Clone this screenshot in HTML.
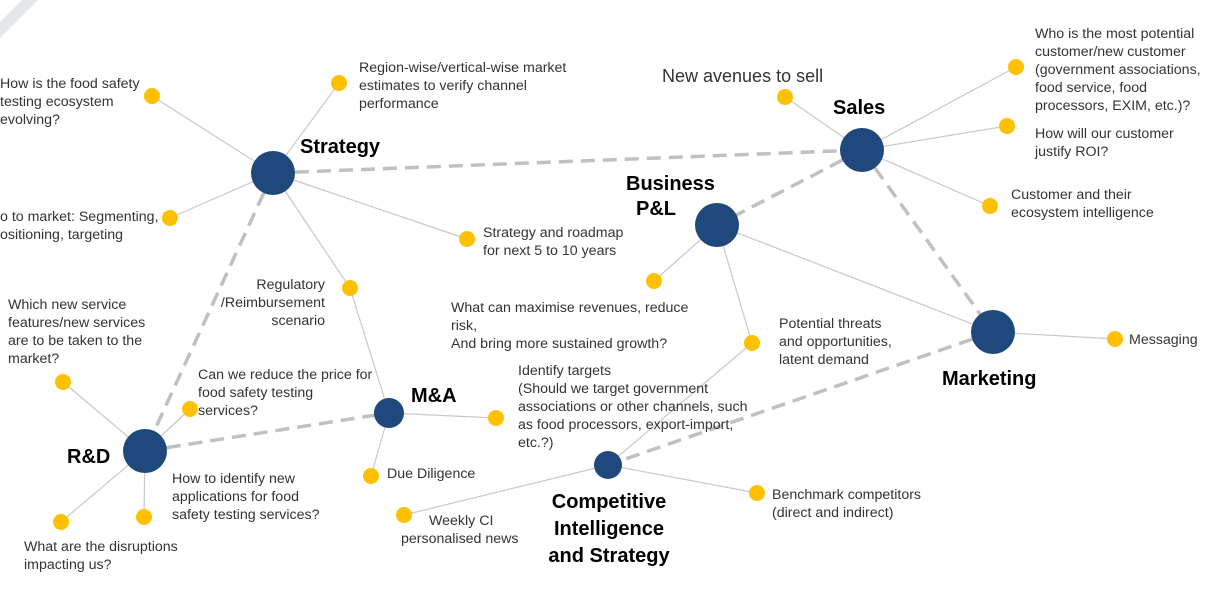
<!DOCTYPE html>
<html><head><meta charset="utf-8"><style>
html,body{margin:0;padding:0;background:#fff;}
svg{display:block;font-family:"Liberation Sans",sans-serif;}
.t{font-size:14.2px;fill:#333;}
.h{font-size:20px;fill:#000;font-weight:bold;}
</style></head><body>
<svg width="1205" height="592" viewBox="0 0 1205 592">
<polygon points="0,22 22,0 38,0 0,38" fill="#e3e6ea"/>
<g stroke="#c8c8c8" stroke-width="1.2">
<line x1="273" y1="173" x2="152" y2="96"/><line x1="273" y1="173" x2="339" y2="83"/>
<line x1="273" y1="173" x2="170" y2="218"/><line x1="273" y1="173" x2="467" y2="239"/>
<line x1="273" y1="173" x2="350" y2="288"/><line x1="350" y1="288" x2="389" y2="413"/>
<line x1="862" y1="150" x2="785" y2="97"/><line x1="862" y1="150" x2="1016" y2="67"/>
<line x1="862" y1="150" x2="1007" y2="126"/><line x1="862" y1="150" x2="990" y2="206"/>
<line x1="717" y1="225" x2="654" y2="281"/><line x1="717" y1="225" x2="752" y2="343"/>
<line x1="717" y1="225" x2="993" y2="332"/><line x1="993" y1="332" x2="1115" y2="339"/>
<line x1="145" y1="451" x2="63" y2="382"/><line x1="145" y1="451" x2="190" y2="409"/>
<line x1="145" y1="451" x2="144" y2="517"/><line x1="145" y1="451" x2="61" y2="522"/>
<line x1="389" y1="413" x2="496" y2="418"/><line x1="389" y1="413" x2="371" y2="476"/>
<line x1="608" y1="465" x2="404" y2="515"/><line x1="608" y1="465" x2="757" y2="493"/>
<line x1="608" y1="465" x2="752" y2="343"/>
</g>
<g stroke="#c0c0c0" stroke-width="3.5" stroke-dasharray="14,8" fill="none">
<line x1="273" y1="173" x2="862" y2="150"/><line x1="273" y1="173" x2="145" y2="451"/>
<line x1="145" y1="451" x2="389" y2="413"/><line x1="862" y1="150" x2="717" y2="225"/>
<line x1="862" y1="150" x2="993" y2="332"/><line x1="993" y1="332" x2="608" y2="465"/>
</g>
<g fill="#1f497d">
<circle cx="273" cy="173" r="22"/><circle cx="862" cy="150" r="22"/><circle cx="717" cy="225" r="22"/>
<circle cx="993" cy="332" r="22"/><circle cx="145" cy="451" r="22"/><circle cx="389" cy="413" r="15"/><circle cx="608" cy="465" r="14"/>
</g>
<g fill="#ffc000">
<circle cx="152" cy="96" r="8"/><circle cx="339" cy="83" r="8"/><circle cx="170" cy="218" r="8"/>
<circle cx="467" cy="239" r="8"/><circle cx="350" cy="288" r="8"/><circle cx="785" cy="97" r="8"/>
<circle cx="1016" cy="67" r="8"/><circle cx="1007" cy="126" r="8"/><circle cx="990" cy="206" r="8"/>
<circle cx="654" cy="281" r="8"/><circle cx="752" cy="343" r="8"/><circle cx="1115" cy="339" r="8"/>
<circle cx="63" cy="382" r="8"/><circle cx="190" cy="409" r="8"/><circle cx="496" cy="418" r="8"/>
<circle cx="371" cy="476" r="8"/><circle cx="144" cy="517" r="8"/><circle cx="61" cy="522" r="8"/>
<circle cx="404" cy="515" r="8"/><circle cx="757" cy="493" r="8"/>
</g>
<text class="h" x="300" y="153">Strategy</text>
<text class="h" x="833" y="114">Sales</text>
<text class="h" x="626" y="190">Business</text>
<text class="h" x="636" y="215">P&amp;L</text>
<text class="h" x="942" y="385">Marketing</text>
<text class="h" x="67" y="463">R&amp;D</text>
<text class="h" x="411" y="402">M&amp;A</text>
<text class="h" text-anchor="middle" x="609" y="508">Competitive</text>
<text class="h" text-anchor="middle" x="609" y="535">Intelligence</text>
<text class="h" text-anchor="middle" x="609" y="562">and Strategy</text>
<text class="t" x="0" y="88">How is the food safety</text>
<text class="t" x="0" y="106">testing ecosystem</text>
<text class="t" x="0" y="124">evolving?</text>
<text class="t" x="359" y="72">Region-wise/vertical-wise market</text>
<text class="t" x="359" y="90">estimates to verify channel</text>
<text class="t" x="359" y="108">performance</text>
<text class="t" x="0" y="221">o to market: Segmenting,</text>
<text class="t" x="0" y="239">ositioning, targeting</text>
<text class="t" x="483" y="237">Strategy and roadmap</text>
<text class="t" x="483" y="255">for next 5 to 10 years</text>
<text class="t" text-anchor="end" x="325" y="289">Regulatory</text>
<text class="t" text-anchor="end" x="325" y="307">/Reimbursement</text>
<text class="t" text-anchor="end" x="325" y="325">scenario</text>
<text class="t" x="8" y="309">Which new service</text>
<text class="t" x="8" y="327">features/new services</text>
<text class="t" x="8" y="345">are to be taken to the</text>
<text class="t" x="8" y="363">market?</text>
<text class="t" x="198" y="379">Can we reduce the price for</text>
<text class="t" x="198" y="397">food safety testing</text>
<text class="t" x="198" y="415">services?</text>
<text class="t" x="172" y="483">How to identify new</text>
<text class="t" x="172" y="501">applications for food</text>
<text class="t" x="172" y="519">safety testing services?</text>
<text class="t" x="24" y="551">What are the disruptions</text>
<text class="t" x="24" y="569">impacting us?</text>
<text class="t" x="387" y="478">Due Diligence</text>
<text class="t" x="429" y="525">Weekly CI</text>
<text class="t" x="401" y="543">personalised news</text>
<text class="t" x="451" y="312">What can maximise revenues, reduce</text>
<text class="t" x="451" y="330">risk,</text>
<text class="t" x="451" y="348">And bring more sustained growth?</text>
<text class="t" x="518" y="375">Identify targets</text>
<text class="t" x="518" y="393">(Should we target government</text>
<text class="t" x="518" y="411">associations or other channels, such</text>
<text class="t" x="518" y="429">as food processors, export-import,</text>
<text class="t" x="518" y="447">etc.?)</text>
<text class="t" x="779" y="328">Potential threats</text>
<text class="t" x="779" y="346">and opportunities,</text>
<text class="t" x="779" y="364">latent demand</text>
<text class="t" x="772" y="499">Benchmark competitors</text>
<text class="t" x="772" y="517">(direct and indirect)</text>
<text x="662" y="82" style="font-size:18px;fill:#333">New avenues to sell</text>
<text class="t" x="1035" y="38">Who is the most potential</text>
<text class="t" x="1035" y="56">customer/new customer</text>
<text class="t" x="1035" y="74">(government associations,</text>
<text class="t" x="1035" y="92">food service, food</text>
<text class="t" x="1035" y="110">processors, EXIM, etc.)?</text>
<text class="t" x="1035" y="138">How will our customer</text>
<text class="t" x="1035" y="156">justify ROI?</text>
<text class="t" x="1011" y="199">Customer and their</text>
<text class="t" x="1011" y="217">ecosystem intelligence</text>
<text class="t" x="1129" y="344">Messaging</text>
</svg>
</body></html>
